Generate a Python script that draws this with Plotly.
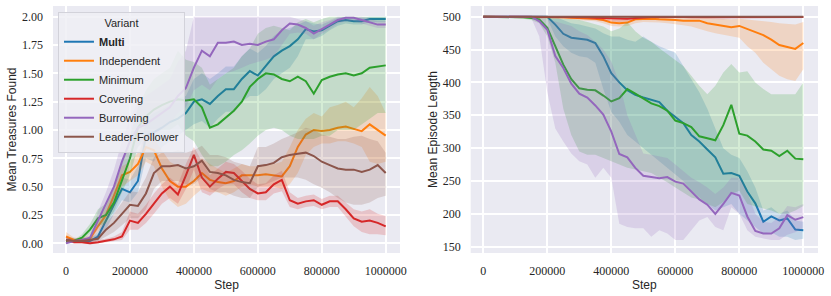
import plotly.graph_objects as go

steps = list(range(0, 1000001, 25000))
variants = ["Multi", "Independent", "Minimum", "Covering", "Burrowing", "Leader-Follower"]
legend_names = ["<b>Multi</b>", "Independent", "Minimum", "Covering", "Burrowing", "Leader-Follower"]
colors = ["#1f77b4", "#ff7f0e", "#2ca02c", "#d62728", "#9467bd", "#8c564b"]

# ---- Left panel: Mean Treasures Found ----
multi_t = [0.03,0.03,0.02,0.02,0.06,0.20,0.35,0.48,0.45,0.55,0.95,0.98,1.02,1.07,1.10,1.15,1.25,1.27,1.23,1.30,1.36,1.36,1.45,1.52,1.48,1.56,1.65,1.70,1.74,1.80,1.89,1.87,1.88,1.92,1.96,1.97,1.96,1.96,1.98,1.98,1.98]
multi_t_lo = [0.01,0.01,0.01,0.01,0.03,0.12,0.26,0.38,0.36,0.45,0.75,0.72,0.85,0.90,0.95,1.00,1.05,1.08,1.02,1.10,1.16,1.16,1.25,1.30,1.30,1.36,1.45,1.50,1.55,1.65,1.80,1.80,1.83,1.88,1.92,1.94,1.93,1.93,1.95,1.95,1.95]
multi_t_hi = [0.05,0.05,0.04,0.04,0.10,0.28,0.44,0.58,0.56,0.68,1.10,1.15,1.18,1.22,1.28,1.30,1.45,1.50,1.45,1.50,1.56,1.56,1.65,1.72,1.68,1.74,1.83,1.88,1.90,1.93,1.96,1.94,1.93,1.96,1.99,2.00,1.99,1.99,2.00,2.00,2.00]

indep_t = [0.06,0.03,0.03,0.04,0.15,0.25,0.42,0.60,0.63,0.70,0.85,0.82,0.66,0.55,0.50,0.50,0.55,0.62,0.56,0.54,0.53,0.55,0.60,0.60,0.60,0.61,0.60,0.59,0.68,0.85,0.96,1.00,0.99,1.00,1.02,1.03,1.01,0.99,1.05,1.00,0.95]
indep_t_lo = [0.02,0.01,0.01,0.02,0.10,0.18,0.33,0.50,0.55,0.60,0.72,0.68,0.50,0.38,0.32,0.35,0.42,0.48,0.45,0.45,0.42,0.45,0.50,0.52,0.50,0.50,0.50,0.48,0.52,0.62,0.78,0.85,0.88,0.88,0.90,0.90,0.88,0.85,0.72,0.70,0.72]
indep_t_hi = [0.10,0.05,0.05,0.07,0.20,0.32,0.50,0.68,0.72,0.80,0.95,0.92,0.82,0.72,0.68,0.65,0.68,0.75,0.70,0.66,0.62,0.66,0.70,0.68,0.68,0.70,0.70,0.72,0.85,1.00,1.10,1.15,1.12,1.20,1.22,1.25,1.20,1.28,1.38,1.30,1.15]

min_t = [0.02,0.02,0.05,0.12,0.22,0.25,0.36,0.55,0.75,1.02,1.12,1.18,1.22,1.25,1.27,1.26,1.27,1.20,1.02,1.05,1.11,1.17,1.25,1.38,1.45,1.50,1.49,1.45,1.43,1.47,1.43,1.32,1.44,1.47,1.49,1.50,1.48,1.50,1.55,1.56,1.57]
min_t_lo = [0.01,0.01,0.03,0.08,0.15,0.18,0.28,0.45,0.60,0.85,0.95,1.00,1.00,1.00,1.05,0.95,0.90,0.78,0.68,0.68,0.72,0.78,0.82,0.88,0.95,1.00,1.02,1.00,0.95,0.92,0.92,0.92,0.95,0.95,1.00,1.00,1.00,1.05,1.10,1.15,1.15]
min_t_hi = [0.03,0.03,0.08,0.17,0.30,0.35,0.48,0.70,0.95,1.20,1.35,1.45,1.50,1.55,1.70,1.62,1.60,1.55,1.40,1.45,1.50,1.55,1.65,1.72,1.85,1.90,1.92,1.90,1.88,1.95,1.98,1.95,1.98,2.00,2.00,2.00,2.00,2.00,2.00,2.00,2.00]

cov_t = [0.03,0.01,0.01,0.00,0.01,0.02,0.035,0.06,0.20,0.18,0.26,0.35,0.44,0.50,0.43,0.60,0.78,0.58,0.50,0.57,0.63,0.62,0.55,0.48,0.44,0.45,0.52,0.56,0.38,0.35,0.37,0.38,0.34,0.37,0.37,0.30,0.22,0.19,0.20,0.18,0.15]
cov_t_lo = [0.01,0.00,0.00,-0.01,0.00,0.01,0.02,0.03,0.12,0.12,0.18,0.26,0.35,0.40,0.35,0.48,0.65,0.45,0.42,0.48,0.52,0.52,0.45,0.40,0.38,0.38,0.44,0.46,0.32,0.30,0.32,0.33,0.30,0.32,0.32,0.24,0.15,0.10,0.08,0.08,0.07]
cov_t_hi = [0.06,0.03,0.03,0.02,0.03,0.04,0.06,0.10,0.28,0.26,0.34,0.44,0.52,0.58,0.52,0.70,0.85,0.72,0.60,0.66,0.72,0.70,0.64,0.57,0.52,0.53,0.60,0.64,0.45,0.40,0.42,0.43,0.39,0.42,0.42,0.36,0.30,0.28,0.30,0.26,0.24]

bur_t = [0.00,0.02,0.03,0.05,0.20,0.35,0.50,0.72,0.90,1.02,1.05,1.10,1.15,1.20,1.30,1.37,1.55,1.70,1.65,1.77,1.77,1.78,1.75,1.76,1.75,1.78,1.80,1.88,1.94,1.93,1.90,1.85,1.89,1.93,1.97,1.99,1.99,1.97,1.95,1.93,1.93]
bur_t_lo = [0.00,0.01,0.02,0.03,0.12,0.25,0.38,0.60,0.75,0.85,0.90,0.95,1.00,1.05,1.15,1.20,1.35,1.40,1.35,1.45,1.50,1.52,1.55,1.58,1.60,1.62,1.65,1.75,1.85,1.86,1.85,1.80,1.85,1.89,1.94,1.96,1.96,1.94,1.92,1.90,1.90]
bur_t_hi = [0.02,0.03,0.04,0.07,0.28,0.45,0.65,0.90,1.10,1.25,1.30,1.35,1.40,1.45,1.60,1.70,2.00,2.00,2.00,2.00,2.00,2.00,2.00,2.00,2.00,2.00,2.00,2.00,2.00,1.98,1.96,1.92,1.95,1.97,2.00,2.00,2.00,2.00,1.98,1.96,1.96]

lf_t = [0.03,0.02,0.02,0.03,0.04,0.12,0.18,0.26,0.34,0.33,0.44,0.62,0.68,0.68,0.69,0.66,0.68,0.73,0.63,0.62,0.60,0.56,0.54,0.53,0.68,0.69,0.71,0.76,0.78,0.79,0.80,0.77,0.72,0.69,0.66,0.65,0.65,0.63,0.65,0.69,0.62]
lf_t_lo = [0.01,0.01,0.01,0.01,0.02,0.06,0.10,0.16,0.22,0.22,0.30,0.48,0.55,0.55,0.55,0.52,0.52,0.58,0.48,0.45,0.45,0.42,0.40,0.40,0.50,0.52,0.55,0.58,0.58,0.58,0.56,0.52,0.49,0.45,0.40,0.36,0.34,0.34,0.36,0.40,0.42]
lf_t_hi = [0.05,0.04,0.04,0.05,0.08,0.18,0.26,0.36,0.46,0.45,0.58,0.76,0.80,0.80,0.82,0.80,0.82,0.86,0.78,0.78,0.76,0.72,0.70,0.68,0.85,0.85,0.88,0.92,0.95,0.98,1.02,1.00,0.96,0.94,0.92,0.92,0.94,0.95,0.92,0.90,0.80]

# ---- Right panel: Mean Episode Length ----
multi_l = [500,500,500,500,500,500,500,500,500,488,474,468,466,465,460,440,414,400,388,381,377,374,370,357,347,338,320,310,298,286,261,262,258,234,216,188,196,190,193,176,175]
multi_l_lo = [499,499,499,499,499,499,499,499,497,470,455,445,440,438,430,390,355,340,320,310,300,290,280,270,260,250,235,225,215,205,210,215,200,190,180,170,172,165,165,160,162]
multi_l_hi = [500,500,500,500,500,500,500,500,500,500,495,490,488,485,482,475,470,470,465,462,470,462,455,450,445,425,405,385,360,330,300,290,285,265,240,205,210,200,205,190,188]

indep_l = [500,500,500,500,500,500,500,500,500,499.5,499,498.5,498,497.5,497,495,491,490,491,496,497,497,496,496,495,494,494,494,490,488,485,484,486,481,476,472,465,457,454,451,460]
indep_l_lo = [500,500,500,500,500,500,500,500,499,498,497,496,495,494,493,490,486,485,486,490,492,492,491,490,489,487,485,482,478,475,472,470,468,455,445,430,420,410,405,402,420]
indep_l_hi = [500,500,500,500,500,500,500,500,500,500,500,500,500,500,500,499,497,496,497,499,500,500,500,500,499,499,499,499,498,497,496,496,497,496,494,493,492,490,489,488,492]

min_l = [500,500,500,499,499,499,498,496,483,455,427,405,391,389,388,380,371,376,390,383,375,368,364,357,342,338,332,318,315,312,335,366,322,319,310,298,296,288,296,284,283]
min_l_lo = [500,500,499,498,497,497,495,490,470,430,360,320,295,290,290,285,280,275,270,268,265,262,255,248,240,232,225,222,215,210,218,230,235,215,212,208,205,200,200,205,212]
min_l_hi = [500,500,500,500,500,500,500,500,498,498,497,496,495,492,488,485,478,482,492,478,468,462,452,443,435,425,410,395,382,395,415,428,415,417,400,390,382,382,383,382,400]

cov_l = [500,500,500,500,500,500,500,500,500,500,500,500,499.5,499,498.5,498,497,496.5,497,498,499,499.5,499.5,499.5,499.5,499.5,499.5,499,498.5,498.5,498.5,499,499,499.5,499.5,499.5,499.5,499.5,499.5,499.5,499.5]
cov_l_lo = [500,500,500,500,500,500,500,499,499,499,498,498,497,496,495,494,493,492,493,495,497,498,498,498,498,498,497,497,496,496,496,497,497,498,498,498,498,498,498,498,498]
cov_l_hi = [500,500,500,500,500,500,500,500,500,500,500,500,500,500,500,500,500,500,500,500,500,500,500,500,500,500,500,500,500,500,500,500,500,500,500,500,500,500,500,500,500]

bur_l = [500,500,500,500,500,500,500,493,480,440,422,398,383,377,365,351,325,291,286,270,258,256,254,256,249,246,234,222,214,200,215,232,228,196,174,170,170,178,198,191,195]
bur_l_lo = [500,500,500,500,500,499,498,470,385,330,310,292,280,275,255,270,255,185,180,178,178,165,175,170,160,160,175,190,195,180,175,210,200,175,165,162,160,160,168,172,178]
bur_l_hi = [500,500,500,500,500,500,500,499,496,493,490,486,478,472,462,450,432,400,350,320,292,290,288,285,275,265,255,248,240,230,240,255,255,232,200,188,186,195,212,210,215]

lf_l = [500,500,500,500,500,500,500,500,500,500,500,500,500,500,500,500,500,500,500,500,500,500,500,500,500,500,500,500,500,500,500,500,500,500,500,500,500,500,500,500,500]
lf_l_lo = [500,500,500,500,500,500,500,500,499.5,499.5,499.5,499.5,499.5,499.5,499,499,498.5,498.5,498.5,499,499.5,499.5,499.5,499.5,499.5,499.5,499.5,499.5,499.5,499.5,499.5,499.5,499.5,499.5,499.5,499.5,499.5,499.5,499.5,499.5,499.5]
lf_l_hi = [500,500,500,500,500,500,500,500,500,500,500,500,500,500,500,500,500,500,500,500,500,500,500,500,500,500,500,500,500,500,500,500,500,500,500,500,500,500,500,500,500]

left = [(multi_t, multi_t_lo, multi_t_hi), (indep_t, indep_t_lo, indep_t_hi), (min_t, min_t_lo, min_t_hi),
        (cov_t, cov_t_lo, cov_t_hi), (bur_t, bur_t_lo, bur_t_hi), (lf_t, lf_t_lo, lf_t_hi)]
right = [(multi_l, multi_l_lo, multi_l_hi), (indep_l, indep_l_lo, indep_l_hi), (min_l, min_l_lo, min_l_hi),
         (cov_l, cov_l_lo, cov_l_hi), (bur_l, bur_l_lo, bur_l_hi), (lf_l, lf_l_lo, lf_l_hi)]


def rgba(h, a):
    h = h.lstrip("#")
    return "rgba(%d,%d,%d,%.2f)" % (int(h[0:2], 16), int(h[2:4], 16), int(h[4:6], 16), a)


fig = go.Figure()
for panel, (data, xa, ya) in enumerate([(left, "x", "y"), (right, "x2", "y2")]):
    for i, (mean, lo, hi) in enumerate(data):
        fig.add_trace(go.Scatter(
            x=steps, y=mean, mode="lines", name=legend_names[i], legendgroup=variants[i],
            showlegend=(panel == 0), line=dict(color=colors[i], width=2),
            xaxis=xa, yaxis=ya, hoverinfo="skip"))
        fig.add_trace(go.Scatter(
            x=steps + steps[::-1], y=hi + lo[::-1], mode="lines", fill="toself",
            fillcolor=rgba(colors[i], 0.2), line=dict(width=0, color=rgba(colors[i], 0)),
            showlegend=False, legendgroup=variants[i], xaxis=xa, yaxis=ya, hoverinfo="skip"))

tick_font = dict(family="Liberation Serif", size=12, color="#262626")
title_font = dict(family="Liberation Sans", size=12, color="#262626")
xticks = [0, 200000, 400000, 600000, 800000, 1000000]

common_x = dict(tickvals=xticks, ticktext=[str(v) for v in xticks], showgrid=True, gridcolor="white",
                gridwidth=1.5, zeroline=False, showline=False, ticks="", tickfont=tick_font,
                ticklabelstandoff=9,
                title=dict(text="Step", font=title_font, standoff=3))

fig.update_layout(
    width=831, height=296,
    margin=dict(l=53, r=13, t=6, b=43),
    paper_bgcolor="white", plot_bgcolor="#eaeaf2",
    xaxis=dict(domain=[0, 0.4536], range=[-40700, 1044700], anchor="y", **common_x),
    xaxis2=dict(domain=[0.546, 1], range=[-39400, 1045900], anchor="y2", **common_x),
    yaxis=dict(domain=[0, 1], range=[-0.0856, 2.094], anchor="x",
               tickvals=[0, 0.25, 0.5, 0.75, 1.0, 1.25, 1.5, 1.75, 2.0], tickformat=".2f",
               showgrid=True, gridcolor="white", gridwidth=1.5, zeroline=False, ticks="",
               tickfont=tick_font, ticklabelstandoff=9,
               title=dict(text="Mean Treasures Found", font=title_font, standoff=2)),
    yaxis2=dict(domain=[0, 1], range=[140.4, 516.3], anchor="x2",
                tickvals=[150, 200, 250, 300, 350, 400, 450, 500],
                showgrid=True, gridcolor="white", gridwidth=1.5, zeroline=False, ticks="",
                tickfont=tick_font, ticklabelstandoff=9,
                title=dict(text="Mean Episode Length", font=title_font, standoff=2)),
    legend=dict(x=0.0065, y=0.976, xanchor="left", yanchor="top",
                bgcolor="rgba(238,238,244,0.85)", bordercolor="#d2d2da", borderwidth=1,
                font=dict(family="Liberation Sans", size=11, color="#262626"),
                title=dict(text="Variant", side="top center",
                           font=dict(family="Liberation Sans", size=11, color="#262626")),
                itemwidth=30, tracegroupgap=0),
    showlegend=True,
)

fig.write_html("out.html", config={"displayModeBar": False},
               post_script="document.body.style.margin='0px';")
